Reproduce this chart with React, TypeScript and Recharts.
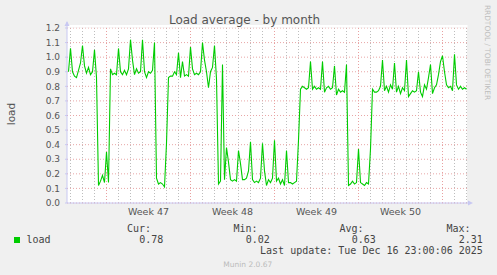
import { CartesianGrid, Line, LineChart, XAxis, YAxis } from "recharts";

// samples every 4 hours, hour 0 = left edge of the plot
const FIRST_SAMPLE_HOUR = 3;
const HOURS_PER_SAMPLE = 4;

const LOAD = [
  0.9, 1.06, 0.9, 0.87, 0.86, 0.91,
  0.96, 1.08, 0.94, 0.89, 0.93, 0.88,
  0.9, 1.05, 0.86, 0.12, 0.15, 0.19,
  0.14, 0.35, 0.14, 0.92, 0.88, 0.89,
  0.88, 1.06, 0.9, 0.88, 0.91, 0.88,
  0.92, 1.12, 0.98, 0.88, 0.92, 0.89,
  0.9, 1.12, 0.9, 0.86, 0.9, 0.89,
  0.91, 1.1, 0.17, 0.13, 0.14, 0.13,
  0.11, 0.41, 0.86, 0.87, 0.87, 0.9,
  0.88, 1.03, 0.86, 0.97, 0.87, 0.88,
  0.87, 1.07, 0.92, 0.88, 0.89, 0.88,
  0.9, 1.1, 0.98, 0.9, 0.79, 0.9,
  0.93, 1.08, 0.85, 0.13, 0.15, 0.95,
  0.16, 0.38, 0.28, 0.16, 0.15, 0.16,
  0.15, 0.36, 0.27, 0.16, 0.16, 0.17,
  0.22, 0.42, 0.16, 0.14, 0.15, 0.14,
  0.17, 0.41, 0.22, 0.12, 0.16, 0.14,
  0.17, 0.43, 0.15, 0.17, 0.13, 0.16,
  0.12, 0.36, 0.14, 0.14, 0.13, 0.14,
  0.15, 0.43, 0.78, 0.8, 0.79, 0.78,
  0.79, 0.97, 0.78, 0.8, 0.78, 0.79,
  0.78, 0.97, 0.76, 0.79, 0.8, 0.78,
  0.79, 0.94, 0.74, 0.78, 0.76, 0.77,
  0.76, 0.95, 0.12, 0.13, 0.15, 0.13,
  0.14, 0.37, 0.14, 0.13, 0.12, 0.14,
  0.13, 0.37, 0.78, 0.76, 0.76, 0.77,
  0.8, 0.98, 0.77, 0.8, 0.76, 0.81,
  0.78, 0.96, 0.76, 0.8, 0.75, 0.79,
  0.77, 0.98, 0.73, 0.75, 0.77, 0.76,
  0.77, 0.9, 0.76, 0.73, 0.81, 0.78,
  0.86, 0.95, 0.75, 0.79, 0.81, 0.88,
  0.97, 1.01, 0.9, 0.81, 0.79, 0.8,
  0.77, 1.02, 0.81, 0.78, 0.8, 0.78,
  0.79, 0.78,
];

const Y_TICKS = [0, 0.1, 0.2, 0.3, 0.4, 0.5, 0.6, 0.7, 0.8, 0.9, 1.0, 1.1, 1.2];
const DAY_HOURS = Array.from({ length: 34 }, (_, k) => 7 + 24 * k);
const WEEK_HOURS = [79, 247, 415, 583, 751];
const WEEK_LABEL_HOURS = [163, 331, 499, 667];
const WEEK_LABELS = ["Week 47", "Week 48", "Week 49", "Week 50"];

const SERIES_NAME = "load";
const STAT_NAMES = ["Cur:", "Min:", "Avg:", "Max:"];
const STAT_VALUES = ["0.78", "0.02", "0.63", "2.31"];
const LAST_UPDATE = "Last update: Tue Dec 16 23:00:06 2025";

const data = LOAD.map((load, i) => ({
  hour: FIRST_SAMPLE_HOUR + i * HOURS_PER_SAMPLE,
  load,
}));

const AXIS = "#c8c8f2";
const SANS = "DejaVu Sans, sans-serif";
const MONO = "DejaVu Sans Mono, monospace";
const STAT_ENDS = [151, 257.5, 363.5, 470.5];

export default function App() {
  return (
    <div
      style={{
        position: "absolute",
        left: 0,
        top: 0,
        width: 497,
        height: 275,
        background: "#f0f0f0",
        fontFamily: SANS,
      }}
    >
      <LineChart
        width={497}
        height={275}
        data={data}
        margin={{ top: 28, right: 30, bottom: 0, left: 0 }}
      >
        <CartesianGrid
          xAxisId="days"
          horizontal={false}
          syncWithTicks
          stroke="#bdbdbd"
          strokeDasharray="1 2"
          fill="#ffffff"
        />
        <CartesianGrid vertical={false} stroke="#e8a6a6" strokeDasharray="1 2" />
        <CartesianGrid
          xAxisId="weeks"
          horizontal={false}
          syncWithTicks
          stroke="#e8a0a0"
          strokeDasharray="1 2"
        />
        <XAxis xAxisId="days" hide type="number" dataKey="hour" domain={[0, 800]} ticks={DAY_HOURS} interval={0} />
        <XAxis xAxisId="weeks" hide type="number" dataKey="hour" domain={[0, 800]} ticks={WEEK_HOURS} interval={0} />
        <XAxis
          type="number"
          dataKey="hour"
          domain={[0, 800]}
          ticks={WEEK_LABEL_HOURS}
          interval={0}
          height={72}
          tickFormatter={(h: number) => WEEK_LABELS[WEEK_LABEL_HOURS.indexOf(h)]}
          tickLine={false}
          tickSize={5}
          tickMargin={0}
          axisLine={{ stroke: AXIS }}
          tick={{ fill: "#555", fontSize: 9.5, fontFamily: SANS }}
        />
        <YAxis
          type="number"
          domain={[0, 1.2]}
          ticks={Y_TICKS}
          interval={0}
          width={67}
          tickFormatter={(v: number) => v.toFixed(1)}
          tickSize={2}
          tickMargin={5}
          tickLine={{ stroke: AXIS }}
          axisLine={{ stroke: AXIS }}
          tick={{ fill: "#555", fontSize: 9, fontFamily: SANS }}
        />
        <Line
          type="linear"
          dataKey="load"
          stroke="#00cc00"
          strokeWidth={1.1}
          dot={false}
          isAnimationActive={false}
        />
      </LineChart>

      <svg
        width={497}
        height={275}
        style={{ position: "absolute", left: 0, top: 0, pointerEvents: "none" }}
      >
        {/* white canvas strip above the top gridline, as rrdtool draws it */}
        <rect x={67.5} y={25} width={400} height={2.5} fill="#ffffff" />
        <line x1={67} y1={28} x2={67} y2={22} stroke={AXIS} />
        <polygon points="64.5,26 69.5,26 67,21" fill={AXIS} />
        <line x1={467} y1={203} x2={469} y2={203} stroke={AXIS} />
        <polygon points="468,200.5 468,205.5 473,203" fill={AXIS} />

        <text x={244.5} y={23.5} textAnchor="middle" fontSize={12} fill="#555" fontFamily={SANS}>
          Load average - by month
        </text>
        <text transform="translate(14.5,114) rotate(-90)" textAnchor="middle" fontSize={10.5} fill="#555" fontFamily={SANS}>
          load
        </text>
        <text transform="translate(485,52.5) rotate(90)" textAnchor="middle" fontSize={7.4} fill="#bdbdbd" fontFamily={SANS}>
          RRDTOOL / TOBI OETIKER
        </text>

        <rect x={14} y={237} width={6} height={6} fill="#00cc00" />
        <g fontFamily={MONO} fontSize={10} fill="#444">
          <text x={26.5} y={243}>{SERIES_NAME}</text>
          {STAT_NAMES.map((name, i) => (
            <text key={name} x={STAT_ENDS[i]} y={231.7} textAnchor="end">
              {name}
            </text>
          ))}
          {STAT_VALUES.map((v, i) => (
            <text key={i} x={STAT_ENDS[i] + 12.3} y={243} textAnchor="end">
              {v}
            </text>
          ))}
          <text x={482.8} y={254.3} textAnchor="end">
            {LAST_UPDATE}
          </text>
        </g>
        <text x={247.8} y={267} textAnchor="middle" fontSize={7.5} fill="#bbb" fontFamily={SANS}>
          Munin 2.0.67
        </text>
      </svg>
    </div>
  );
}
